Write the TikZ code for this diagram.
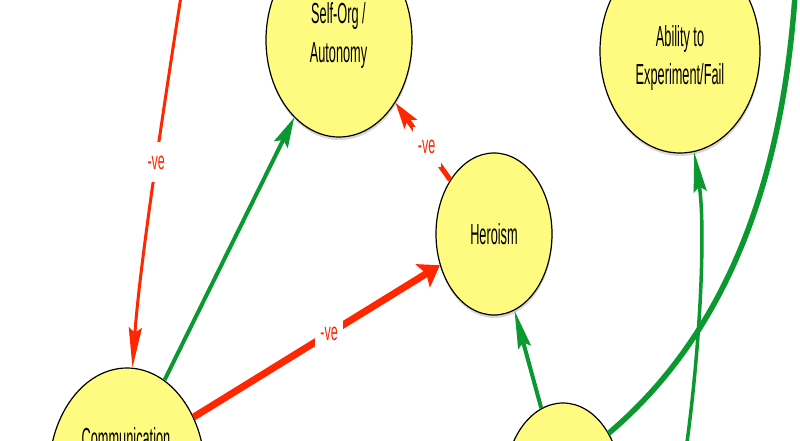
\documentclass[tikz,border=0pt]{standalone}
\usepackage{fontspec}
\newfontfamily\nfont[FakeStretch=0.44]{Liberation Sans}
\newfontfamily\lfont[FakeStretch=0.5]{Liberation Sans}
\usetikzlibrary{shapes.geometric,arrows.meta,shadows}
\definecolor{bub}{RGB}{255,251,128}
\definecolor{negred}{RGB}{255,38,0}
\definecolor{posgreen}{RGB}{12,152,48}
\begin{document}
\begin{tikzpicture}[x=1pt,y=-1pt,
  bubble/.style={ellipse, draw=black, line width=1.2pt, fill=bub, inner sep=0pt,
    drop shadow={shadow xshift=0.5pt, shadow yshift=-3pt, opacity=0.3}},
  ntext/.style={font=\nfont\fontsize{29}{38.5}\selectfont, align=center, inner sep=0pt},
  lbl/.style={font=\lfont\fontsize{25}{30}\selectfont, text=negred, fill=white,
    inner sep=0pt, minimum width=28pt, minimum height=40pt},
  negline/.style={draw=negred},
  posline/.style={draw=posgreen},
]
\useasboundingbox (0,0) rectangle (800,440);
\clip (0,0) rectangle (800,440);
\fill[white] (0,0) rectangle (800,440);

% bubbles
\node[bubble, minimum width=146pt, minimum height=194pt] (self) at (339,40) {};
\node[bubble, minimum width=160pt, minimum height=204pt] (abil) at (680,51) {};
\node[bubble, minimum width=116pt, minimum height=162pt, font=\nfont\fontsize{29}{38.5}\selectfont] (hero) at (494,234) {Heroism};
\node[bubble, minimum width=156pt, minimum height=210pt] (comm) at (127,473) {};
\node[bubble, minimum width=116pt, minimum height=162pt] (bot) at (563,484) {};

% texts
\node[ntext] (self-t) at (338.5,35.5) {Self-Org /\\Autonomy};
\node[ntext] (abil-t) at (680,58) {Ability to\\Experiment/Fail};
\node[ntext, anchor=base] (comm-t) at (126,448) {Communication};

% free ends
\coordinate (srcA) at (183.5,-20);
\coordinate (sinkF) at (797,-40);
\coordinate (srcG) at (683,470);

% connectors
\draw[negline, line width=3pt, -{Stealth[length=40pt,width=13pt,inset=5pt]}]
  (srcA) .. controls (168,80) and (140,260) .. (comm.87)
  node[lbl, pos=0.48] (l1) {-ve};
\draw[posline, line width=4pt, -{Stealth[length=30pt,width=15pt,inset=5pt]}]
  (comm.68) -- (self.240);
\draw[negline, line width=7pt, -{Stealth[length=20pt,width=27pt,inset=4pt]}]
  (comm.40) -- (hero.210) node[lbl, pos=0.55] (l3) {-ve};
\draw[negline, line width=5pt, -{Stealth[length=26pt,width=15pt,inset=5pt]}]
  (hero.129) -- (self.312) node[lbl, pos=0.43] (l4) {-ve};
\draw[posline, line width=4pt, -{Stealth[length=38pt,width=13pt,inset=5pt]}]
  (bot.106) -- (hero.285);
\draw[posline, line width=5.5pt]
  (bot.48) .. controls (752,312) and (790,125) .. (sinkF);
\draw[posline, line width=3.5pt, -{Stealth[length=40pt,width=13pt,inset=5pt]}]
  (srcG) .. controls (700,360) and (706,230) .. (abil.278);
\end{tikzpicture}
\end{document}
